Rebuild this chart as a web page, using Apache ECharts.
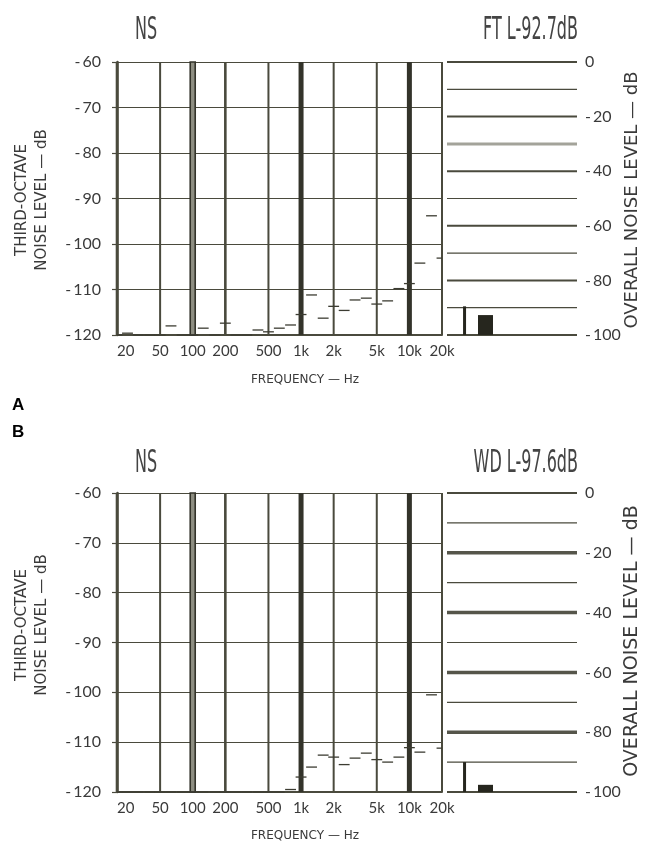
<!DOCTYPE html>
<html><head><meta charset="utf-8">
<script src="https://cdn.jsdelivr.net/npm/echarts@6/dist/echarts.min.js"></script>
<style>html,body{margin:0;padding:0;background:#fff}#c{width:654px;height:852px}</style>
</head><body><div id="c"></div>
<script>
// ---- data ----
const bandCenters = [20,25,31.5,40,50,63,80,100,125,160,200,250,315,400,500,630,800,1000,1250,1600,2000,2500,3150,4000,5000,6300,8000,10000,12500,16000,20000];
const levelsA = [-120,-119.6,-120,-120,-120,-118,-120,-120,-118.5,-120,-117.4,-120,-120,-118.9,-119.3,-118.5,-117.8,-115.5,-111.2,-116.3,-113.7,-114.6,-112.3,-111.9,-113.2,-112.5,-109.8,-108.7,-104.2,-93.8,-103.1];
const levelsB = [-120,-120,-120,-120,-120,-120,-120,-120,-120,-120,-120,-120,-120,-120,-120,-120,-119.5,-117,-115,-112.6,-113,-114.5,-113.2,-112.2,-113.5,-114,-113,-111.1,-112,-100.5,-111.2];
const gridFreqs = [20,50,100,200,500,1000,2000,5000,10000,20000];
const freqTickLabels = ['20','50','100','200','500','1k','2k','5k','10k','20k'];
const overallLevels = [0,-10,-20,-30,-40,-50,-60,-70,-80,-90,-100];
const overallA = [-89.5,-92.7];   // peak marker, overall level
const overallB = [-90,-97.6];
const titleA = ['NS','FT L-92.7dB'];
const titleB = ['NS','WD L-97.6dB'];
const panelLetters = ['A','B'];

// ---- layout / style ----
const INK = '#4a4a3d', DARK = '#33332a', TXT = '#3a3a3a';
const FONT = 'Lato, "Open Sans", sans-serif';
const NAMEFONT = '"DejaVu Sans", sans-serif';
const panels = [
  {top:62, height:273, levels:levelsA, overall:overallA, titles:titleA, key:'A', nameY:200, rnameY:200, rnameSize:18, freqY:380, titleY:31},
  {top:493, height:299, levels:levelsB, overall:overallB, titles:titleB, key:'B', nameY:625, rnameY:641, rnameSize:19, freqY:836, titleY:464}
];
const third = Math.pow(2, 1/6);

function freqLabel(v){
  let best = 0, bd = 1e9;
  gridFreqs.forEach((f,i)=>{ const d = Math.abs(Math.log(v/f)); if (d < bd){bd=d;best=i;} });
  return bd < 0.01 ? freqTickLabels[best] : '';
}
function dbLabel(v){ return v < 0 ? '-\u2009' + Math.abs(v) : String(v); }
function vStyle(f){
  if (f === 1000 || f === 10000) return {w:5, c:DARK};
  if (f === 200 || f === 20) return {w:2.6, c:INK};
  return {w:2, c:INK};
}
function hStyle(key, v){
  if (key === 'A'){
    if (v === -30) return {w:3, c:'#a3a39a'};
    if (v % 20 === 0) return {w:2, c:INK};
    return {w:1.2, c:INK};
  } else {
    if (v === -20 || v === -40 || v === -60 || v === -80) return {w:3.5, c:'#55554a'};
    if (v === 0 || v === -100) return {w:2, c:INK};
    return {w:1.2, c:INK};
  }
}

const grid = [], xAxis = [], yAxis = [], series = [], graphic = [];
panels.forEach((p, k) => {
  const gL = 2*k, gR = 2*k+1;
  grid.push({left:117, top:p.top, width:325, height:p.height});
  grid.push({left:447, top:p.top, width:130, height:p.height});
  xAxis.push({type:'log', logBase:10, min:20, max:20000, gridIndex:gL,
    axisLine:{show:true, lineStyle:{color:INK, width:2}},
    axisTick:{show:false}, splitLine:{show:false}, minorTick:{show:false},
    axisLabel:{customValues:gridFreqs, formatter:freqLabel, color:TXT, fontFamily:FONT, fontSize:15, margin:9, alignMinLabel:'left', alignMaxLabel:'center', showMinLabel:true, showMaxLabel:true}
  });
  yAxis.push({type:'value', min:-120, max:-60, interval:10, gridIndex:gL,
    axisLine:{show:true, lineStyle:{color:INK, width:2.5}},
    axisTick:{show:true, length:5, lineStyle:{color:INK, width:1.2}},
    axisLabel:{color:TXT, fontFamily:FONT, fontSize:16, margin:16, formatter:dbLabel},
    splitLine:{show:true, lineStyle:{color:INK, width:1.2}}
  });
  xAxis.push({type:'value', min:0, max:100, gridIndex:gR, show:false});
  yAxis.push({type:'value', min:-100, max:0, interval:20, gridIndex:gR, position:'right',
    axisLine:{show:false}, axisTick:{show:false}, splitLine:{show:false},
    axisLabel:{color:TXT, fontFamily:FONT, fontSize:16, margin:8, formatter:dbLabel}
  });
  // vertical frequency grid lines
  series.push({type:'custom', xAxisIndex:gL, yAxisIndex:gL, silent:true, z:3,
    data: gridFreqs.map(f=>[f,-120]),
    renderItem:(params, api)=>{
      const f = api.value(0);
      const a = api.coord([f,-60]), b = api.coord([f,-120]);
      if (f === 100){
        return {type:'rect', shape:{x:a[0]-2.5, y:a[1], width:5, height:b[1]-a[1]}, style:{fill:'#8e8e82', stroke:DARK, lineWidth:1.6}};
      }
      const s = vStyle(f);
      return {type:'line', shape:{x1:a[0], y1:a[1], x2:b[0], y2:b[1]}, style:{stroke:s.c, lineWidth:s.w}};
    }
  });
  // third-octave band levels
  series.push({type:'custom', xAxisIndex:gL, yAxisIndex:gL, silent:true, z:4,
    data: bandCenters.map((f,i)=>[f, p.levels[i]]),
    renderItem:(params, api)=>{
      const f = api.value(0), v = api.value(1);
      const lo = api.coord([20, v])[0], hi = api.coord([20000, v])[0];
      const a = api.coord([f/third, v]), b = api.coord([f*third, v]);
      return {type:'line', shape:{x1:Math.max(lo,a[0]), y1:a[1], x2:Math.min(hi,b[0]), y2:b[1]}, style:{stroke:'#3c3c32', lineWidth:1.3}};
    }
  });
  // overall-level panel horizontal lines
  series.push({type:'custom', xAxisIndex:gR, yAxisIndex:gR, silent:true, z:3,
    data: overallLevels.map(v=>[0,v]),
    renderItem:(params, api)=>{
      const v = api.value(1);
      const a = api.coord([0,v]), b = api.coord([100,v]);
      const s = hStyle(p.key, v);
      return {type:'line', shape:{x1:a[0], y1:a[1], x2:b[0], y2:b[1]}, style:{stroke:s.c, lineWidth:s.w}};
    }
  });
  // overall level bars (peak marker, overall)
  series.push({type:'custom', xAxisIndex:gR, yAxisIndex:gR, silent:true, z:5,
    data: p.overall.map((v,i)=>[i,v]),
    renderItem:(params, api)=>{
      const i = api.value(0), v = api.value(1);
      const cx = i === 0 ? 13.5 : 29.6;
      const w = i === 0 ? 3 : 15;
      const t = api.coord([cx, v]), b = api.coord([cx, -100]);
      return {type:'rect', shape:{x:t[0]-w/2, y:t[1], width:w, height:b[1]-t[1]}, style:{fill:'#26261e'}};
    }
  });
  // texts
  graphic.push({type:'text', x:135, y:p.titleY, scaleX:0.5, style:{text:p.titles[0], font:'32px "DejaVu Sans"', fill:'#444', textAlign:'left', textVerticalAlign:'middle'}});
  graphic.push({type:'text', x:578, y:p.titleY, scaleX:0.5, style:{text:p.titles[1], font:'32px "DejaVu Sans"', fill:'#444', textAlign:'right', textVerticalAlign:'middle'}});
  graphic.push({type:'text', x:32, y:p.nameY, rotation:Math.PI/2, style:{text:'THIRD-OCTAVE\nNOISE LEVEL — dB', font:'15px '+NAMEFONT, fill:TXT, textAlign:'center', textVerticalAlign:'middle', lineHeight:20}});
  graphic.push({type:'text', x:632, y:p.rnameY, rotation:Math.PI/2, style:{text:'OVERALL NOISE LEVEL — dB', font:p.rnameSize+'px '+NAMEFONT, fill:TXT, textAlign:'center', textVerticalAlign:'middle'}});
  graphic.push({type:'text', x:305, y:p.freqY, style:{text:'FREQUENCY — Hz', font:'12px '+NAMEFONT, fill:TXT, textAlign:'center', textVerticalAlign:'middle'}});
});
graphic.push({type:'text', x:12, y:405, style:{text:panelLetters[0], font:'bold 17px "Liberation Sans", Arial, sans-serif', fill:'#000', textVerticalAlign:'middle'}});
graphic.push({type:'text', x:12, y:432, style:{text:panelLetters[1], font:'bold 17px "Liberation Sans", Arial, sans-serif', fill:'#000', textVerticalAlign:'middle'}});

const chart = echarts.init(document.getElementById('c'), null, {renderer:'canvas'});
chart.setOption({backgroundColor:'#fff', animation:false, grid, xAxis, yAxis, series, graphic});
</script></body></html>
